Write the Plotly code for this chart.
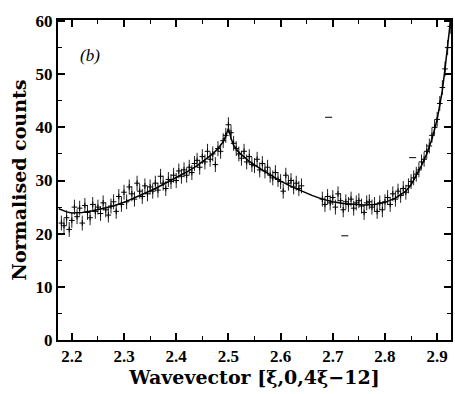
import plotly.graph_objects as go

# measured points (region 1: below the gap, region 2: above it)
x1 = [2.180, 2.185, 2.190, 2.195, 2.200, 2.205, 2.210, 2.215, 2.220, 2.225,
      2.230, 2.235, 2.240, 2.245, 2.250, 2.255, 2.260, 2.265, 2.270, 2.275,
      2.280, 2.285, 2.290, 2.295, 2.300, 2.305, 2.310, 2.315, 2.320, 2.325,
      2.330, 2.335, 2.340, 2.345, 2.350, 2.355, 2.360, 2.365, 2.370, 2.375,
      2.380, 2.385, 2.390, 2.395, 2.400, 2.405, 2.410, 2.415, 2.420, 2.425,
      2.430, 2.435, 2.440, 2.445, 2.450, 2.455, 2.460, 2.465, 2.470, 2.475,
      2.480, 2.485, 2.490, 2.495, 2.500, 2.505, 2.510, 2.515, 2.520, 2.525,
      2.530, 2.535, 2.540, 2.545, 2.550, 2.555, 2.560, 2.565, 2.570, 2.575,
      2.580, 2.585, 2.590, 2.595, 2.600, 2.605, 2.610, 2.615, 2.620, 2.625,
      2.630, 2.635, 2.640]
y1 = [22.0, 21.5, 23.0, 20.8, 22.5, 25.0, 23.2, 24.8, 22.0, 25.3,
      24.0, 23.0, 25.5, 24.2, 25.0, 23.8, 25.8, 24.5, 23.5, 25.2,
      26.0, 24.2, 27.0, 25.5, 27.8, 26.0, 28.8, 27.5, 26.5, 29.5,
      28.0, 27.0, 29.0, 27.5, 28.8, 28.0, 29.5, 28.2, 30.8, 29.5,
      28.5, 30.2, 29.8, 31.0, 30.0, 31.8, 30.8, 32.0, 31.0, 32.5,
      31.5, 33.2, 33.8, 32.5, 34.5, 33.5, 35.5, 34.0, 35.0, 33.0,
      36.0, 35.5, 37.5, 38.5, 40.5, 39.0, 37.0, 36.0, 35.0, 34.2,
      35.5, 33.5, 34.5, 33.0, 32.8, 34.0, 32.0, 33.2, 31.8, 32.5,
      31.0, 30.5, 31.5, 30.2, 29.8, 28.0, 31.0, 29.5, 30.0, 28.8,
      29.5, 28.5, 29.0]
x2 = [2.680, 2.685, 2.690, 2.695, 2.700, 2.705, 2.710, 2.715, 2.720, 2.725,
      2.730, 2.735, 2.740, 2.745, 2.750, 2.755, 2.760, 2.765, 2.770, 2.775,
      2.780, 2.785, 2.790, 2.795, 2.800, 2.805, 2.810, 2.815, 2.820, 2.825,
      2.830, 2.835, 2.840, 2.845, 2.850, 2.855, 2.860, 2.865, 2.870, 2.875,
      2.880, 2.885, 2.890, 2.895, 2.900, 2.905, 2.910, 2.915, 2.920, 2.925]
y2 = [26.5, 25.5, 27.0, 25.8, 26.8, 25.0, 27.5, 26.2, 24.5, 26.0,
      25.5, 26.5, 24.8, 25.8, 26.2, 25.2, 24.0, 25.8, 26.0, 25.0,
      25.5, 24.2, 25.8, 24.5, 26.0, 26.8, 25.5, 27.5, 26.5, 28.0,
      27.2, 28.5, 27.8, 29.0, 29.8, 30.5, 31.2, 32.0, 33.5, 34.0,
      35.5, 36.5, 38.5, 40.0, 41.5, 44.5, 47.5, 51.0, 55.0, 59.0]

# isolated marks
xs = [2.692, 2.723, 2.853]
ys = [41.9, 19.6, 34.3]

# fitted curve
cx = [2.175, 2.19, 2.20, 2.22, 2.24, 2.26, 2.28, 2.30, 2.32, 2.34, 2.36, 2.38,
      2.40, 2.42, 2.44, 2.46, 2.47, 2.48, 2.49, 2.495, 2.50, 2.505, 2.51, 2.52,
      2.53, 2.54, 2.56, 2.58, 2.60, 2.62, 2.64, 2.66, 2.68, 2.70, 2.72, 2.74,
      2.76, 2.78, 2.80, 2.82, 2.84, 2.85, 2.86, 2.87, 2.88, 2.89, 2.90, 2.91,
      2.915, 2.92, 2.926]
cy = [24.7, 24.1, 23.9, 24.0, 24.3, 24.7, 25.2, 25.9, 26.7, 27.6, 28.5, 29.5,
      30.5, 31.6, 32.8, 34.2, 35.0, 36.0, 37.3, 38.4, 39.8, 38.0, 36.6, 35.3,
      34.4, 33.6, 32.3, 31.1, 29.9, 28.9, 28.0, 27.2, 26.5, 26.0, 25.7, 25.5,
      25.4, 25.5, 25.9, 26.7, 28.0, 29.2, 31.0, 32.8, 35.0, 37.8, 41.5, 47.0,
      51.0, 55.5, 60.5]

xticks = [2.2, 2.3, 2.4, 2.5, 2.6, 2.7, 2.8, 2.9]
yticks = [0, 10, 20, 30, 40, 50, 60]

SERIF = "Liberation Serif, DejaVu Serif, serif"
WIDE = "DejaVu Serif, Liberation Serif, serif"

fig = go.Figure()
for xx, yy in ((x1, y1), (x2, y2)):
    fig.add_trace(go.Scatter(
        x=xx, y=yy, mode="markers",
        marker=dict(symbol="cross-thin", size=4, color="black",
                    line=dict(width=1, color="black")),
        error_y=dict(type="constant", value=1.4, width=0, thickness=1,
                     color="#222"),
        showlegend=False, hoverinfo="skip"))
fig.add_trace(go.Scatter(
    x=xs, y=ys, mode="markers",
    marker=dict(symbol="line-ew", size=5, color="black",
                line=dict(width=1, color="black")),
    showlegend=False, hoverinfo="skip"))
fig.add_trace(go.Scatter(
    x=cx, y=cy, mode="lines", line=dict(color="black", width=1.5),
    showlegend=False, hoverinfo="skip"))

fig.add_annotation(x=0.05, y=0.925, xref="paper", yref="paper",
                   text="(b)", showarrow=False, xanchor="left",
                   font=dict(family=SERIF, size=17, color="black", style="italic"))

tickfont = dict(family=SERIF, size=17, color="black", weight="bold")
fig.update_layout(
    width=455, height=394,
    margin=dict(l=58, r=2, t=20, b=54),
    paper_bgcolor="white", plot_bgcolor="white",
    xaxis=dict(range=[2.1735, 2.9265], tickvals=xticks,
               ticktext=[f"{v:.1f}" for v in xticks],
               ticks="inside", ticklen=7, tickwidth=1.5, tickcolor="black",
               minor=dict(dtick=0.05, tick0=2.15, ticks="inside", ticklen=4,
                          tickwidth=1.2, tickcolor="black"),
               showline=True, linewidth=2, linecolor="black", mirror="allticks",
               showgrid=False, zeroline=False, tickfont=tickfont,
               title=dict(text="Wavevector [ξ,0,4ξ−12]", standoff=5,
                          font=dict(family=WIDE, size=19, color="black",
                                    weight="bold"))),
    yaxis=dict(range=[0, 60.2], tickvals=yticks,
               ticks="inside", ticklen=7, tickwidth=1.5, tickcolor="black",
               minor=dict(dtick=5, ticks="inside", ticklen=4, tickwidth=1.2,
                          tickcolor="black"),
               showline=True, linewidth=2, linecolor="black", mirror="allticks",
               showgrid=False, zeroline=False, tickfont=tickfont,
               title=dict(text="Normalised counts", standoff=4,
                          font=dict(family=WIDE, size=19, color="black",
                                    weight="bold"))),
)

fig.write_html("out.html")
